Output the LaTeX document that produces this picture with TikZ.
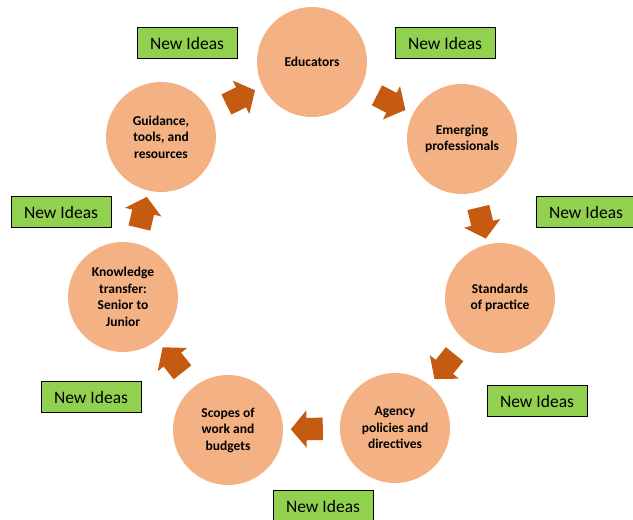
\documentclass[tikz,border=0pt]{standalone}
\usepackage{fontspec}
\setmainfont{Carlito}
\usetikzlibrary{shapes.arrows}
\definecolor{circfill}{HTML}{F4B183}
\definecolor{arrowc}{HTML}{C55A11}
\definecolor{ideagreen}{HTML}{92D050}
\begin{document}
\begin{tikzpicture}[x=1pt,y=-1pt,
 stage/.style={circle, fill=circfill, minimum size=110pt, inner sep=0pt, align=center, font=\bfseries\fontsize{13.5}{16.5}\selectfont},
 idea/.style={draw=black, line width=0.8pt, fill=ideagreen, minimum width=100pt, minimum height=31pt, inner sep=0pt, font=\fontsize{17.5}{20}\selectfont},
 flow/.style={single arrow, fill=arrowc, draw=none, minimum height=32pt, single arrow head extend=7.5pt, single arrow tip angle=100, inner xsep=0pt, inner ysep=11pt, sloped, allow upside down}
]
\useasboundingbox (0,0) rectangle (633,520);
% stages
\node[stage] (edu) at (312,62) {Educators};
\node[stage] (emer) at (462,139) {Emerging\\professionals};
\node[stage] (std) at (500,298) {Standards\\of practice};
\node[stage] (agency) at (395,428) {Agency\\policies and\\directives};
\node[stage] (scopes) at (228,430) {Scopes of\\work and\\budgets};
\node[stage] (know) at (123,297) {Knowledge\\transfer:\\Senior to\\Junior};
\node[stage] (guide) at (161,137) {Guidance,\\tools, and\\resources};
% flow arrows
\path (guide) -- node[flow] (f1) {} (edu);
\path (edu) -- node[flow] (f2) {} (emer);
\path (emer) -- node[flow] (f3) {} (std);
\path (std) -- node[flow] (f4) {} (agency);
\path (agency) -- node[flow] (f5) {} (scopes);
\path (scopes) -- node[flow] (f6) {} (know);
\path (know) -- node[flow] (f7) {} (guide);
% new ideas
\node[idea] (n1) at (187,43) {New Ideas};
\node[idea] (n2) at (445,43) {New Ideas};
\node[idea] (n3) at (586,212) {New Ideas};
\node[idea] (n4) at (61,212) {New Ideas};
\node[idea] (n5) at (91,397) {New Ideas};
\node[idea] (n6) at (537,401) {New Ideas};
\node[idea] (n7) at (323,506) {New Ideas};
\end{tikzpicture}
\end{document}
